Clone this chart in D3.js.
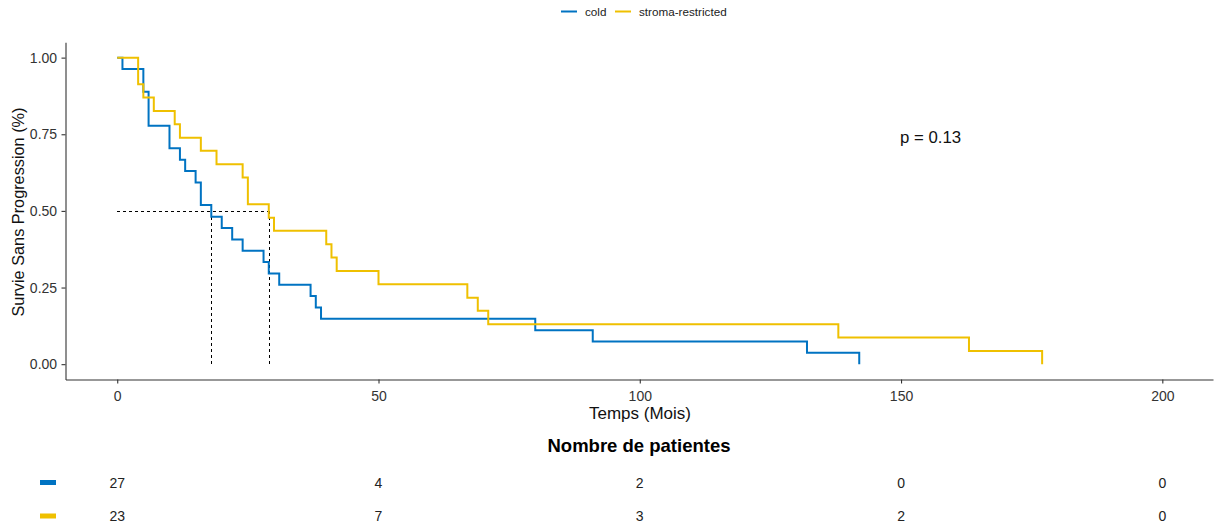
<!DOCTYPE html>
<html>
<head>
<meta charset="utf-8">
<script src="https://cdn.jsdelivr.net/npm/d3@7"></script>
<style>
  html, body { margin: 0; padding: 0; background: #fff; }
  svg { display: block; font-family: "Liberation Sans", Arial, sans-serif; }
</style>
</head>
<body>
<svg id="chart" width="1215" height="529"></svg>
<script>
// ---- Data ----
const groups = ["cold", "stroma-restricted"];
const colors = ["#0073C2", "#EFC000"];

// Kaplan-Meier step points (time in months, survival probability)
const coldTimes = [0, 1, 5, 6, 10, 12, 13, 15, 16, 18, 20, 22, 24, 28, 29, 31, 37, 38, 39, 80, 91, 132, 142];
const coldSurv  = [1, 0.963, 0.889, 0.778, 0.704, 0.667, 0.630, 0.593, 0.519, 0.481, 0.444, 0.407, 0.370, 0.333, 0.296, 0.259, 0.222, 0.185, 0.148, 0.111, 0.074, 0.037, 0];

const stromaTimes = [0, 4, 5, 7, 11, 12, 16, 19, 24, 25, 29, 30, 40, 41, 42, 50, 67, 69, 71, 138, 163, 177];
const stromaSurv  = [1, 0.913, 0.870, 0.826, 0.783, 0.739, 0.696, 0.652, 0.609, 0.522, 0.478, 0.435, 0.391, 0.348, 0.304, 0.261, 0.217, 0.174, 0.130, 0.087, 0.043, 0];

const medians = [18, 29];          // median survival times (months)
const pValueLabel = "p = 0.13";

const xTicks = [0, 50, 100, 150, 200];
const yTicks = [0, 0.25, 0.5, 0.75, 1];
const riskCold   = [27, 4, 2, 0, 0];
const riskStroma = [23, 7, 3, 2, 0];

// ---- Layout ----
const svg = d3.select("#chart");
const x = d3.scaleLinear().domain([-9.9, 209.7]).range([65.5, 1213]);
const y = d3.scaleLinear().domain([-0.05, 1.05]).range([379.5, 42.3]);
const crisp = v => Math.round(v) + 0.5;

const axisColor = "#333";
const textColor = "#333";

// Axes
const xAxis = svg.append("g")
  .attr("transform", "translate(0,379.5)")
  .call(d3.axisBottom(x).tickValues(xTicks).tickFormat(d3.format("d")).tickSize(4).tickSizeOuter(0));
const yAxis = svg.append("g")
  .attr("transform", "translate(65.5,0)")
  .call(d3.axisLeft(y).tickValues(yTicks).tickFormat(d3.format(".2f")).tickSize(4).tickSizeOuter(0));

[xAxis, yAxis].forEach(g => {
  g.select(".domain").attr("stroke", axisColor).attr("stroke-width", 1.1);
  g.selectAll(".tick line").attr("stroke", axisColor).attr("stroke-width", 1.1);
  g.selectAll(".tick text").attr("fill", textColor).style("font-size", "14px")
    .style("font-family", "Liberation Sans, Arial, sans-serif");
});
xAxis.selectAll(".tick text").attr("dy", "1.0em");
yAxis.selectAll(".tick text").attr("dx", "-0.1em");

// Axis titles
svg.append("text")
  .attr("x", 640).attr("y", 419)
  .attr("text-anchor", "middle")
  .style("font-size", "17px").attr("fill", "#111")
  .text("Temps (Mois)");

svg.append("text")
  .attr("transform", "translate(24,212) rotate(-90)")
  .attr("text-anchor", "middle")
  .style("font-size", "16.3px").attr("fill", "#111")
  .text("Survie Sans Progression (%)");

// Median dashed lines
const dash = svg.append("g").attr("stroke", "#000").attr("stroke-width", 1)
  .attr("stroke-dasharray", "3,3").attr("fill", "none").attr("shape-rendering", "crispEdges");
dash.append("line")
  .attr("x1", x(0)).attr("x2", x(d3.max(medians)))
  .attr("y1", crisp(y(0.5))).attr("y2", crisp(y(0.5)));
medians.forEach(m => {
  dash.append("line")
    .attr("x1", crisp(x(m))).attr("x2", crisp(x(m)))
    .attr("y1", y(0.5)).attr("y2", y(0));
});

// Survival curves
const line = d3.line().x(d => x(d[0])).y(d => y(d[1])).curve(d3.curveStepAfter);
const series = [
  d3.zip(coldTimes, coldSurv),
  d3.zip(stromaTimes, stromaSurv)
];
series.forEach((pts, i) => {
  svg.append("path")
    .datum(pts)
    .attr("d", line)
    .attr("fill", "none")
    .attr("stroke", colors[i])
    .attr("stroke-width", 2);
});

// p-value
svg.append("text")
  .attr("x", 900).attr("y", 142.5)
  .style("font-size", "16.8px").attr("fill", "#111")
  .text(pValueLabel);

// Legend (top)
const legend = svg.append("g");
const legendItems = [
  { label: groups[0], color: colors[0], x0: 561, tx: 585 },
  { label: groups[1], color: colors[1], x0: 615, tx: 639 }
];
legendItems.forEach(it => {
  legend.append("line")
    .attr("x1", it.x0).attr("x2", it.x0 + 16)
    .attr("y1", 11.5).attr("y2", 11.5)
    .attr("stroke", it.color).attr("stroke-width", 2);
  legend.append("text")
    .attr("x", it.tx).attr("y", 16)
    .style("font-size", "11.7px").attr("fill", "#222")
    .text(it.label);
});

// Risk table
svg.append("text")
  .attr("x", 639).attr("y", 451.5)
  .attr("text-anchor", "middle")
  .style("font-size", "18.5px").style("font-weight", "bold").attr("fill", "#000")
  .text("Nombre de patientes");

const rows = [
  { values: riskCold, color: colors[0], yc: 482.5 },
  { values: riskStroma, color: colors[1], yc: 516 }
];
rows.forEach(r => {
  svg.append("rect")
    .attr("x", 40).attr("y", r.yc - 2.5)
    .attr("width", 16).attr("height", 5)
    .attr("fill", r.color);
  svg.selectAll(null)
    .data(r.values)
    .enter().append("text")
    .attr("x", (d, i) => x(xTicks[i]))
    .attr("y", r.yc + 5)
    .attr("text-anchor", "middle")
    .style("font-size", "14px").attr("fill", "#222")
    .text(d => d);
});
</script>
</body>
</html>
